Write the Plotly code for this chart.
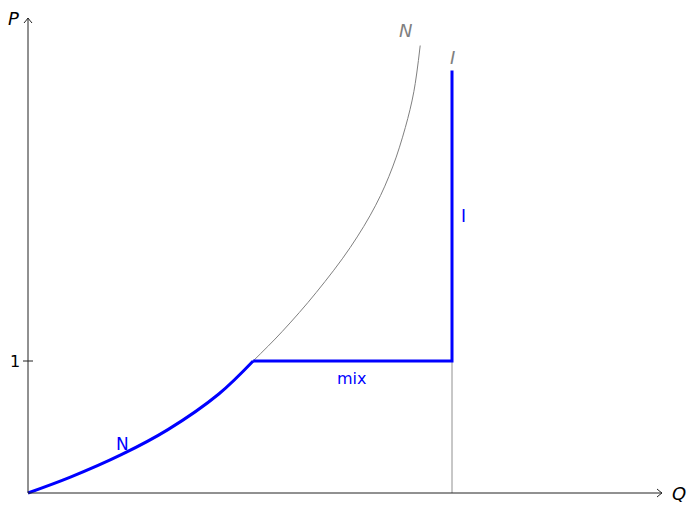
import plotly.graph_objects as go

# ---- data ----
Q_N = [0, 0.10, 0.22, 0.33, 0.45, 0.531, 0.60, 0.68, 0.76, 0.82, 0.86, 0.89, 0.91, 0.925]
P_N = [0, 0.12, 0.29, 0.48, 0.75, 1.00, 1.225, 1.52, 1.86, 2.18, 2.47, 2.77, 3.04, 3.39]

Q_junction = 0.531
P_mix = 1.0
Q_I = 1.0
P_I_top = 3.2

x_ticks = [1]
y_ticks = [1]

# blue path: N-curve up to junction, then mix (horizontal), then I (vertical)
Q_blue_curve = [q for q in Q_N if q <= Q_junction]
P_blue_curve = [p for q, p in zip(Q_N, P_N) if q <= Q_junction]
Q_blue_lines = [Q_junction, Q_I, Q_I]
P_blue_lines = [P_mix, P_mix, P_I_top]

# ---- layout geometry (pixel anchors) ----
W, H = 689, 515
ml, mr, mt, mb = 8, 8, 8, 8
x0px, sx = 28, 424.0   # Q=0 at px 28, 424 px per unit
y0px, sy = 493, 132.0  # P=0 at px 493, 132 px per unit
xr = [(ml - x0px) / sx, (W - mr - x0px) / sx]
yr = [(y0px - (H - mb)) / sy, (y0px - mt) / sy]

Q_end = (662 - x0px) / sx
P_end = (y0px - 18) / sy

fig = go.Figure()
fig.add_trace(go.Scatter(x=Q_N, y=P_N, mode="lines", line=dict(color="#808080", width=1, shape="spline"),
                         hoverinfo="skip", showlegend=False))
fig.add_trace(go.Scatter(x=[Q_I, Q_I], y=[0, P_mix], mode="lines", line=dict(color="#909090", width=1),
                         hoverinfo="skip", showlegend=False))
fig.add_trace(go.Scatter(x=Q_blue_curve, y=P_blue_curve, mode="lines",
                         line=dict(color="#0000ff", width=3, shape="spline"),
                         hoverinfo="skip", showlegend=False))
fig.add_trace(go.Scatter(x=Q_blue_lines, y=P_blue_lines, mode="lines",
                         line=dict(color="#0000ff", width=3),
                         hoverinfo="skip", showlegend=False))

ax = dict(color="#222222", width=1)
shapes = [
    dict(type="line", xref="x", yref="y", x0=0, y0=0, x1=Q_end, y1=0, line=ax),
    dict(type="line", xref="x", yref="y", x0=0, y0=0, x1=0, y1=P_end, line=ax),
    # arrowheads
    dict(type="path", xref="x", yref="y",
         path=f"M {Q_end-5/sx},{4/sy} Q {Q_end-1.5/sx},{1/sy} {Q_end},0 Q {Q_end-1.5/sx},{-1/sy} {Q_end-5/sx},{-4/sy}", line=ax),
    dict(type="path", xref="x", yref="y",
         path=f"M {-4/sx},{P_end-5/sy} Q {-1/sx},{P_end-1.5/sy} 0,{P_end} Q {1/sx},{P_end-1.5/sy} {4/sx},{P_end-5/sy}", line=ax),
]
for t in y_ticks:
    shapes.append(dict(type="line", xref="x", yref="y", x0=-5/sx, x1=5/sx, y0=t, y1=t, line=ax))

font = "DejaVu Sans, sans-serif"
ann = []
def A(text, x, y, color="#000000", size=15, **kw):
    ann.append(dict(text=text, x=x, y=y, xref="x", yref="y", showarrow=False,
                    font=dict(family=font, size=size, color=color), **kw))

for t in x_ticks:
    A(str(t), t, -15/sy, color="#808080", size=16)
for t in y_ticks:
    A(str(t), -13/sx, t, size=16)
A("<i>P</i>", -15/sx, (y0px-18)/sy, size=18)
A("<i>Q</i>", (679-x0px)/sx, 0, size=18)
A("<i>N</i>", (405-x0px)/sx, (y0px-30)/sy, color="#808080", size=18)
A("<i>I</i>", (452-x0px)/sx, (y0px-57)/sy, color="#808080", size=18)
A("N", (122-x0px)/sx, (y0px-444)/sy, color="#0000ff", size=17)
A("mix", (352-x0px)/sx, (y0px-378)/sy, color="#0000ff", size=16)
A("I", (463-x0px)/sx, (y0px-216)/sy, color="#0000ff", size=17)

fig.update_layout(
    width=W, height=H, margin=dict(l=ml, r=mr, t=mt, b=mb),
    paper_bgcolor="white", plot_bgcolor="white",
    xaxis=dict(range=xr, visible=False, fixedrange=True),
    yaxis=dict(range=yr, visible=False, fixedrange=True),
    shapes=shapes, annotations=ann,
)
fig.write_html("out.html", config={"displayModeBar": False},
               post_script="document.body.style.margin='0';document.body.style.overflow='hidden';")
